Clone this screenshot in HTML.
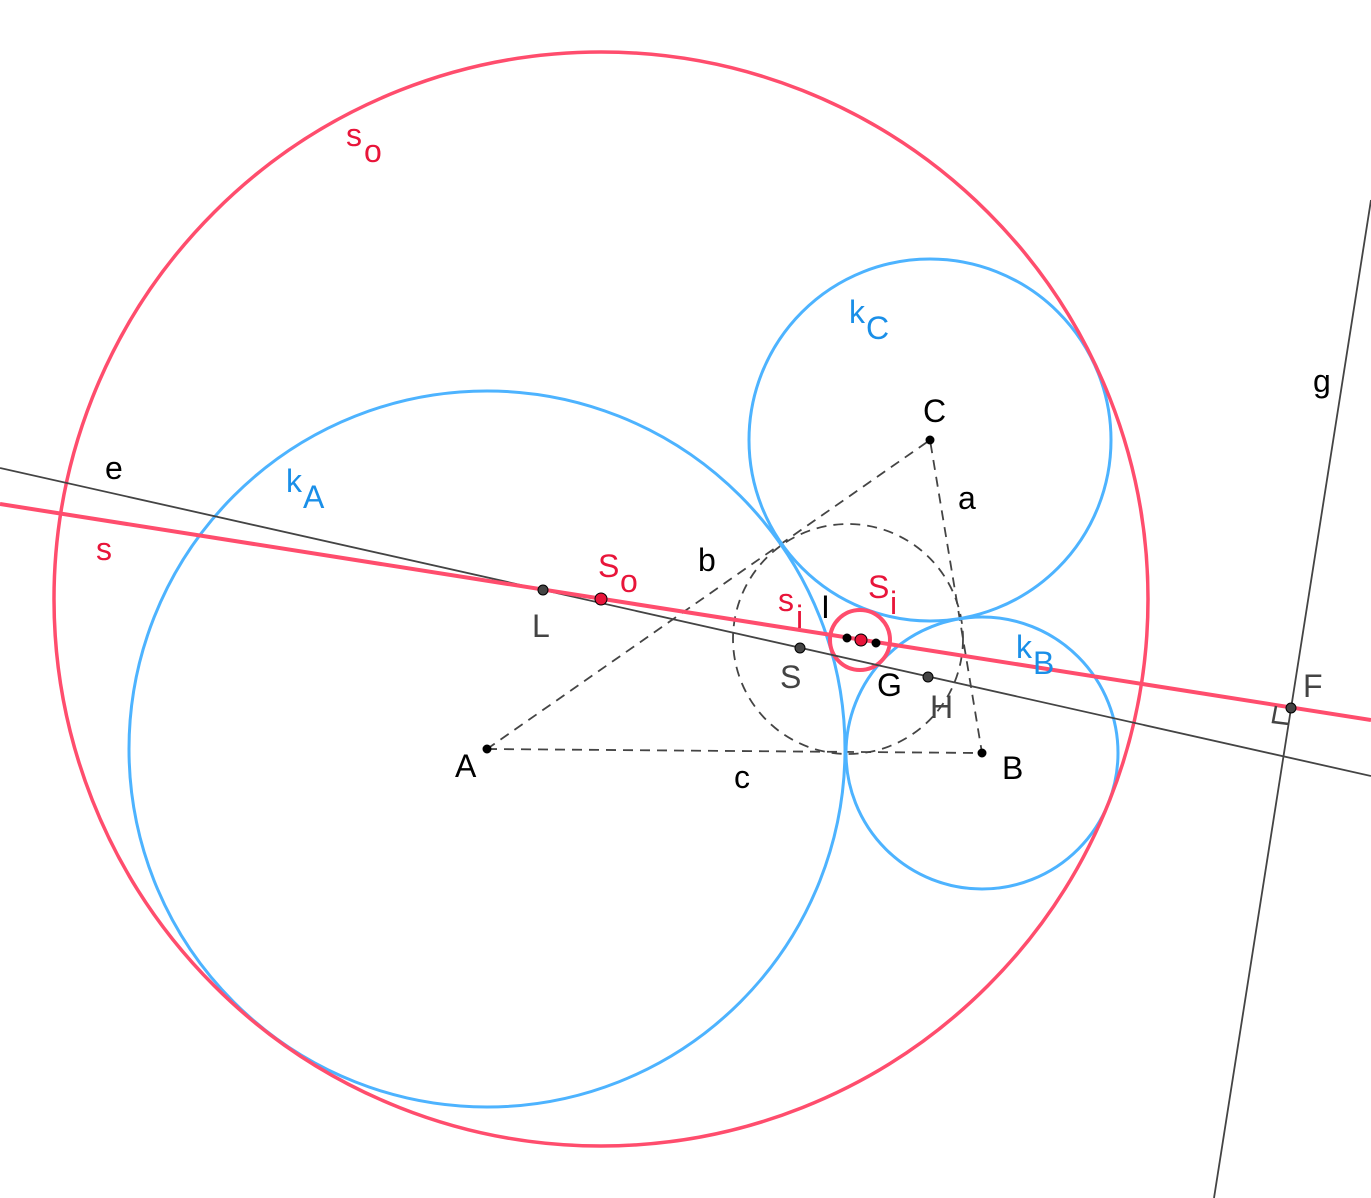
<!DOCTYPE html>
<html><head><meta charset="utf-8"><style>body{margin:0;background:#fff}svg{display:block}text{font-family:"Liberation Sans",sans-serif;font-size:32px}</style></head><body>
<svg width="1371" height="1198" viewBox="0 0 1371 1198">
<g fill="none">
<circle cx="848" cy="639" r="115" stroke="#444" stroke-width="1.8" stroke-dasharray="10,7"/>
<polygon points="487,749 982,753 930,440" stroke="#444" stroke-width="1.8" stroke-dasharray="10,7"/>
<circle cx="487" cy="749" r="358" stroke="#4db3ff" stroke-width="3"/>
<circle cx="930" cy="440" r="181" stroke="#4db3ff" stroke-width="3"/>
<circle cx="982" cy="753" r="136" stroke="#4db3ff" stroke-width="3"/>
<circle cx="601" cy="599" r="547" stroke="#ff4d6d" stroke-width="3.5"/>
<circle cx="860" cy="640" r="30" stroke="#ff4d6d" stroke-width="4"/>
<line x1="0" y1="468" x2="1371" y2="776" stroke="#444" stroke-width="1.8"/>
<line x1="0" y1="504" x2="1371" y2="720" stroke="#ff4d6d" stroke-width="4"/>
<line x1="1371" y1="200" x2="1214" y2="1198" stroke="#444" stroke-width="1.8"/>
<polyline points="1276,706 1273,722 1289,724" stroke="#444" stroke-width="2.5"/>
</g>
<g stroke="#000" stroke-width="1">
<circle cx="487" cy="749" r="4" fill="#000"/><circle cx="982" cy="753" r="4" fill="#000"/><circle cx="930" cy="440" r="4" fill="#000"/>
<circle cx="847" cy="638" r="4" fill="#000"/><circle cx="876" cy="643" r="4" fill="#000"/>
<circle cx="543" cy="590" r="5" fill="#444"/><circle cx="800" cy="648" r="5" fill="#444"/><circle cx="928" cy="677" r="5" fill="#444"/><circle cx="1291" cy="708" r="5" fill="#444"/>
<circle cx="601" cy="599" r="6" fill="#e8153a"/><circle cx="861" cy="640" r="6" fill="#e8153a"/>
</g>
<g fill="#000">
<text x="455" y="777">A</text><text x="1002" y="779">B</text><text x="923" y="422">C</text>
<text x="958" y="509">a</text><text x="698" y="571">b</text><text x="734" y="788">c</text>
<text x="105" y="479">e</text><text x="1313" y="392">g</text><text x="821" y="618">I</text>
<text x="877" y="696">G</text>
</g>
<g fill="#444"><text x="532" y="637">L</text><text x="780" y="688">S</text><text x="930" y="718">H</text><text x="1303" y="697">F</text></g>
<g fill="#e8153a"><text x="346" y="146">s</text><text x="364" y="162" font-size="26">o</text>
<text x="96" y="560">s</text>
<text x="598" y="577">S</text><text x="620" y="592" font-size="26">o</text>
<text x="778" y="611">s</text><text x="796" y="628" font-size="26">i</text>
<text x="868" y="598">S</text><text x="890" y="614" font-size="26">i</text></g>
<g fill="#1a8fe8"><text x="286" y="492">k</text><text x="303" y="508" font-size="26">A</text>
<text x="849" y="323">k</text><text x="866" y="339" font-size="26">C</text>
<text x="1016" y="658">k</text><text x="1033" y="674" font-size="26">B</text></g>
</svg>
</body></html>
